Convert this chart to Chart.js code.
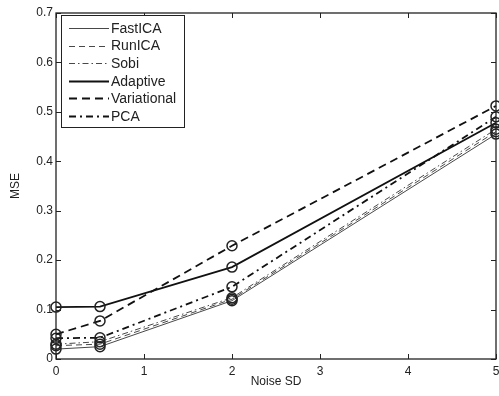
<!DOCTYPE html>
<html>
<head>
<meta charset="utf-8">
<script src="https://cdn.jsdelivr.net/npm/chart.js@4/dist/chart.umd.min.js"></script>
<style>
html,body{margin:0;padding:0;background:#fff;}
#wrap{width:499px;height:396px;position:relative;}
</style>
</head>
<body>
<div id="wrap"><canvas id="c" width="499" height="396"></canvas></div>
<script>
const noiseSD = [0, 0.5, 2, 5];
const seriesNames = ['FastICA', 'RunICA', 'Sobi', 'Adaptive', 'Variational', 'PCA'];
const fastICA     = [0.020, 0.025, 0.118, 0.455];
const runICA      = [0.027, 0.030, 0.121, 0.460];
const sobi        = [0.030, 0.035, 0.124, 0.465];
const adaptive    = [0.105, 0.106, 0.186, 0.478];
const variational = [0.050, 0.077, 0.229, 0.512];
const pca         = [0.042, 0.043, 0.146, 0.490];
const xTicks = [0, 1, 2, 3, 4, 5];
const yTicks = [0, 0.1, 0.2, 0.3, 0.4, 0.5, 0.6, 0.7];

const styles = [
  {w: 0.9, dash: [], color: '#333'},
  {w: 0.9, dash: [6, 4], color: '#333'},
  {w: 0.9, dash: [6, 3, 1.5, 3], color: '#333'},
  {w: 1.8, dash: [], color: '#111'},
  {w: 1.8, dash: [8, 5], color: '#111'},
  {w: 1.8, dash: [7, 4, 2, 4], color: '#111'}
];
const values = [fastICA, runICA, sobi, adaptive, variational, pca];

const datasets = values.map((v, i) => ({
  label: seriesNames[i],
  data: v.map((y, j) => ({x: noiseSD[j], y: y})),
  borderColor: styles[i].color,
  borderWidth: styles[i].w,
  borderDash: styles[i].dash,
  pointRadius: 5,
  pointBorderWidth: 1.5,
  pointBorderColor: '#222',
  pointBackgroundColor: 'rgba(0,0,0,0)',
  pointStyle: 'circle',
  fill: false,
  tension: 0,
  clip: false
}));

const boxPlugin = {
  id: 'boxTicks',
  afterDraw(chart) {
    const {ctx, chartArea: a, scales: {x, y}} = chart;
    ctx.save();
    ctx.strokeStyle = '#222';
    ctx.lineWidth = 1.3;
    ctx.setLineDash([]);
    ctx.strokeRect(a.left, a.top, a.right - a.left, a.bottom - a.top);
    ctx.lineWidth = 1;
    const L = 5;
    xTicks.forEach(t => {
      const px = Math.round(x.getPixelForValue(t)) + 0.5;
      ctx.beginPath();
      ctx.moveTo(px, a.bottom); ctx.lineTo(px, a.bottom - L);
      ctx.moveTo(px, a.top); ctx.lineTo(px, a.top + L);
      ctx.stroke();
    });
    yTicks.forEach(t => {
      const py = Math.round(y.getPixelForValue(t)) + 0.5;
      ctx.beginPath();
      ctx.moveTo(a.left, py); ctx.lineTo(a.left + L, py);
      ctx.moveTo(a.right, py); ctx.lineTo(a.right - L, py);
      ctx.stroke();
    });
    // legend
    const lx = 61.5, ly = 15.5, lw = 123, lh = 112;
    ctx.fillStyle = '#fff';
    ctx.fillRect(lx, ly, lw, lh);
    ctx.strokeStyle = '#222';
    ctx.lineWidth = 1;
    ctx.strokeRect(lx, ly, lw, lh);
    ctx.font = '14px "Liberation Sans", Arial, sans-serif';
    ctx.textBaseline = 'middle';
    ctx.textAlign = 'left';
    seriesNames.forEach((n, i) => {
      const cy = 28 + i * 17.6;
      ctx.beginPath();
      ctx.strokeStyle = styles[i].color;
      ctx.lineWidth = styles[i].w;
      ctx.setLineDash(styles[i].dash);
      ctx.moveTo(69, Math.round(cy) + 0.5);
      ctx.lineTo(109, Math.round(cy) + 0.5);
      ctx.stroke();
      ctx.setLineDash([]);
      ctx.fillStyle = '#222';
      ctx.fillText(n, 111, cy + 1);
    });
    ctx.restore();
  }
};

new Chart(document.getElementById('c'), {
  type: 'line',
  data: {datasets},
  options: {
    responsive: false,
    animation: false,
    layout: {autoPadding: false, padding: {left: 0, right: 3, top: 13, bottom: 0}},
    plugins: {legend: {display: false}, tooltip: {enabled: false}},
    scales: {
      x: {
        type: 'linear', min: 0, max: 5,
        afterBuildTicks: s => { s.ticks = xTicks.map(v => ({value: v})); },
        afterFit: s => { s.height = 37; s.paddingLeft = 0; s.paddingRight = 0; },
        grid: {display: false, drawTicks: false},
        border: {display: false},
        ticks: {color: '#222', padding: 5, font: {family: '"Liberation Sans", Arial, sans-serif', size: 12}, callback: v => String(v)},
        title: {display: true, text: 'Noise SD', color: '#222', padding: {top: 0, bottom: 7}, font: {family: '"Liberation Sans", Arial, sans-serif', size: 12}}
      },
      y: {
        type: 'linear', min: 0, max: 0.7,
        afterBuildTicks: s => { s.ticks = yTicks.map(v => ({value: v})); },
        afterFit: s => { s.width = 56; s.paddingTop = 0; s.paddingBottom = 0; },
        grid: {display: false, drawTicks: false},
        border: {display: false},
        ticks: {color: '#222', padding: 3, font: {family: '"Liberation Sans", Arial, sans-serif', size: 12}, callback: v => String(Math.round(v * 10) / 10)},
        title: {display: true, text: 'MSE', color: '#222', padding: {top: 8, bottom: 0}, font: {family: '"Liberation Sans", Arial, sans-serif', size: 12}}
      }
    }
  },
  plugins: [boxPlugin]
});
</script>
</body>
</html>
